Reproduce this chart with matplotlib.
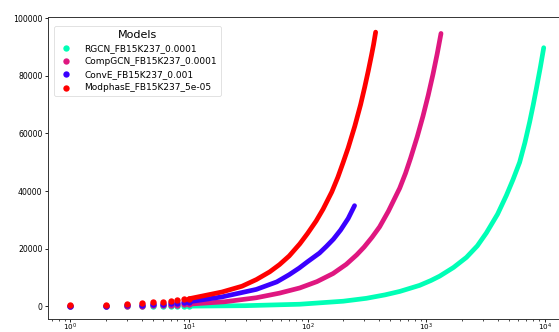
import matplotlib
matplotlib.use("Agg")
import matplotlib.pyplot as plt

# ---- data ----
models = ["RGCN_FB15K237_0.0001", "CompGCN_FB15K237_0.0001",
          "ConvE_FB15K237_0.001", "ModphasE_FB15K237_5e-05"]
colors = ["#00ffb6", "#df1780", "#3a00ff", "#ff0000"]

# individually visible early points (x = 1..10)
early_x = [1, 2, 3, 4, 5, 6, 7, 8, 9, 10]
rgcn_early = [5, 15, 25, 35, 45, 55, 65, 75, 85, 95]
compgcn_early = [50, 150, 230, 310, 390, 470, 550, 630, 710, 800]
conve_early = [60, 220, 390, 560, 730, 900, 1070, 1240, 1410, 1600]
modphase_early = [350, 600, 850, 1150, 1400, 1650, 1900, 2150, 2400, 2650]

# dense part of each curve (sampled along the curve)
rgcn_x = [10, 30, 86, 200, 313, 450, 600, 881, 1100, 1300, 1700, 2185, 2700,
          3220, 4000, 4745, 5400, 6140, 6800, 7460, 8000, 8490, 9200, 9800]
rgcn_y = [95, 250, 750, 1800, 2800, 4000, 5200, 7300, 9000, 10500, 13500,
          17000, 21000, 25500, 32000, 38500, 44000, 50000, 56800, 64000,
          70000, 75500, 83200, 89750]

compgcn_x = [10, 20, 37, 58, 86, 120, 164, 212, 260, 300, 350, 405, 480, 598,
             670, 740, 840, 940, 1040, 1141, 1240, 1334]
compgcn_y = [800, 1600, 3000, 4600, 6400, 8600, 11400, 14600, 17900, 20600,
             24000, 27600, 33000, 41000, 46200, 51500, 58800, 66000, 73200,
             80500, 87700, 94700]

conve_x = [10, 19, 37, 55, 70, 85, 100, 126, 144, 165, 190, 220, 249]
conve_y = [1600, 3300, 5900, 8500, 11000, 13300, 15500, 18500, 20800, 23300,
           26500, 30500, 34950]

modphase_x = [10, 19, 28, 37, 48, 58, 70, 86, 100, 118, 135, 160, 180, 199,
              220, 250, 280, 303, 325, 345, 360, 375]
modphase_y = [2650, 5000, 7000, 9300, 12000, 14500, 17500, 21700, 25300,
              29600, 33700, 39700, 44800, 49800, 55000, 62500, 70000, 76000,
              81700, 86900, 90800, 95150]

early = [rgcn_early, compgcn_early, conve_early, modphase_early]
dense_x = [rgcn_x, compgcn_x, conve_x, modphase_x]
dense_y = [rgcn_y, compgcn_y, conve_y, modphase_y]

# ---- figure ----
W, H = 559, 332
fig = plt.figure(figsize=(W / 100, H / 100), dpi=100)
ax = fig.add_axes([47.7 / W, (H - 318.5) / H, 519.6 / W, 301.5 / H])

msize = 21
lw_pt = 3.4
for name, col, ey, dx, dy in zip(models, colors, early, dense_x, dense_y):
    ax.plot(dx, dy, color=col, lw=lw_pt, solid_capstyle="round",
            solid_joinstyle="round", zorder=2)
    ax.scatter(early_x, ey, s=msize, color=col, label=name, zorder=2,
               linewidths=0)

ax.set_xscale("log")
ax.set_xlim(0.644, 10 ** 4.19)
ax.set_ylim(-4200, 100400)
ax.set_yticks([0, 20000, 40000, 60000, 80000, 100000])

for s in ax.spines.values():
    s.set_linewidth(0.7)
    s.set_color("#333333")
ax.tick_params(axis="both", which="major", labelsize=5.6, length=2.2, width=0.6, pad=1.5)
ax.tick_params(axis="x", which="major", labelsize=5.2, pad=0.2)
ax.tick_params(axis="both", which="minor", length=1.3, width=0.5)

leg = ax.legend(title="Models", loc="upper left", fontsize=6.5,
                title_fontsize=8, scatterpoints=1, markerscale=1.0,
                borderpad=0.4, labelspacing=0.45, handletextpad=1.0,
                bbox_to_anchor=(0.003, 0.985))
leg.get_frame().set_linewidth(0.5)

fig.savefig("out.png", dpi=100)
